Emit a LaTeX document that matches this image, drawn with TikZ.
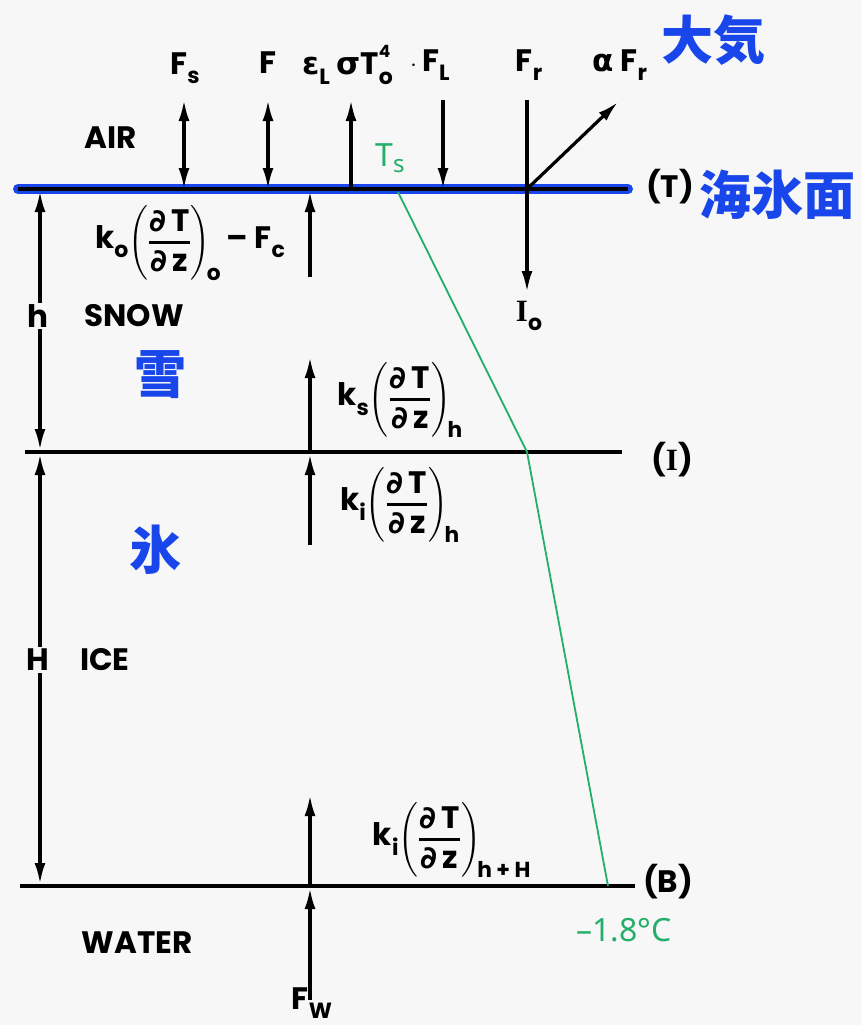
\documentclass[tikz,border=0pt]{standalone}
\usepackage{amsmath}
\usepackage{fontspec}
\setmainfont{Poppins}
\newfontfamily\cjk{Noto Sans CJK JP}
\newfontfamily\gk{DejaVu Sans}
\newfontfamily\hand{Noto Sans}
\newfontfamily\seriffont{Liberation Serif}
\usetikzlibrary{arrows.meta}
\definecolor{penblue}{RGB}{25,70,235}
\definecolor{pengreen}{RGB}{35,175,105}
\definecolor{paper}{RGB}{247,247,247}
\newcommand\sbs[1]{\raisebox{-0.3em}{\fontsize{22}{22}\selectfont #1}}
\newcommand\sps[1]{\raisebox{0.55em}{\fontsize{17}{17}\selectfont #1}}
\newcommand\dTdz{\genfrac{}{}{2.4pt}{0}{\text{{\gk\bfseries ∂}\,T}}{\text{{\gk\bfseries ∂}\,z}}}
\tikzset{
  lbl/.style={font=\bfseries\fontsize{31}{33}\selectfont, inner sep=0pt},
  flux/.style={line width=3.2pt, -{Latex[length=21pt,width=11pt]}},
  dflux/.style={line width=3.2pt, {Latex[length=21pt,width=11pt]}-{Latex[length=21pt,width=11pt]}},
  layer/.style={line width=4.5pt},
  jp/.style={font=\cjk\bfseries\fontsize{52}{52}\selectfont, text=penblue, inner sep=0pt},
  grn/.style={text=pengreen, font=\hand\fontsize{32}{32}\selectfont, inner sep=0pt},
  profile/.style={draw=pengreen, line width=1.8pt},
}
\begin{document}
\begin{tikzpicture}[x=1pt,y=-1pt]
\fill[paper] (0,0) rectangle (861,1025);
\useasboundingbox (0,0) rectangle (861,1025);

% layer lines
\coordinate (TL) at (18,189);  \coordinate (TR) at (628,189);
\coordinate (IL) at (25,452);  \coordinate (IR) at (622,452);
\coordinate (BL) at (20,886);  \coordinate (BR) at (635,886);
\draw[penblue, line width=10pt, line cap=round] (TL) -- (TR);
\draw[layer] (TL) -- (TR);
\draw[layer] (IL) -- (IR);
\draw[layer] (BL) -- (BR);

% temperature profile
\coordinate (P1) at (398,192);
\coordinate (P2) at (527,452);
\coordinate (P3) at (608,886);
\draw[profile] (P1) -- (P2) -- (P3);

% surface fluxes
\coordinate (fs1) at (184,100); \coordinate (fs2) at (184,189);
\coordinate (f1) at (268,100);  \coordinate (f2) at (268,189);
\coordinate (e1) at (351,100);  \coordinate (e2) at (351,189);
\coordinate (fl1) at (443,100); \coordinate (fl2) at (443,189);
\coordinate (fr1) at (527,100); \coordinate (fr0) at (527,189); \coordinate (fr2) at (527,292);
\coordinate (afr) at (618,102);
\draw[dflux] (fs1) -- (fs2);
\draw[dflux] (f1) -- (f2);
\draw[flux] (e2) -- (e1);
\draw[flux] (fl1) -- (fl2);
\draw[flux] (fr1) -- (fr2);
\draw[flux] (fr0) -- (afr);

% conductive fluxes
\coordinate (c1) at (310,277); \coordinate (c2) at (310,191);
\coordinate (s1) at (310,452); \coordinate (s2) at (310,357);
\coordinate (i1) at (310,545); \coordinate (i2) at (310,454);
\coordinate (b1) at (310,886); \coordinate (b2) at (310,795);
\coordinate (w1) at (310,1000); \coordinate (w2) at (310,888);
\draw[flux] (c1) -- (c2);
\draw[flux] (s1) -- (s2);
\draw[flux] (i1) -- (i2);
\draw[flux] (b1) -- (b2);
\draw[flux] (w1) -- (w2);

% thickness arrows
\coordinate (h1) at (40,191); \coordinate (h2) at (40,450);
\coordinate (H1) at (40,454); \coordinate (H2) at (40,884);
\draw[dflux] (h1) -- (h2);
\draw[dflux] (H1) -- (H2);

% labels
\node[lbl] (Fs) at (185,68) {F\sbs{s}};
\node[lbl] (F) at (268,63) {F};
\node[lbl, anchor=west] (eps) at (302,65) {{\gk ε}\sbs{L} {\gk σ}T\makebox[0pt][l]{\sps{4}}\sbs{o}};
\node[lbl, anchor=west] (FL) at (410,65) {$\cdot$\,F\sbs{L}};
\node[lbl] (Fr) at (529,65) {F\sbs{r}};
\node[lbl] (aFr) at (620,65) {{\gk α} F\sbs{r}};
\node[jp] (taiki) at (713,40) {大気};
\node[lbl] (air) at (111,138) {AIR};
\node[grn] (Ts) at (390,158) {T\raisebox{-0.2em}{\fontsize{24}{24}\selectfont s}};
\node[lbl] (Tlab) at (670,187) {(T)};
\node[jp] (kaihyo) at (777,195) {海氷面};
\node[lbl] (k0) at (190,243) {k\sbs{o}$\left(\dTdz\right)_{\!\text{o}}$\,\textendash\ F\sbs{c}};
\node[lbl] (I0) at (529,316) {{\seriffont I}\sbs{o}};
\node[lbl, fill=paper, inner sep=2pt] (h) at (38,316) {h};
\node[lbl] (snow) at (134,316) {SNOW};
\node[jp] (yuki) at (160,375) {雪};
\node[lbl] (ks) at (400,400) {k\sbs{s}$\left(\dTdz\right)_{\!\text{h}}$};
\node[lbl] (Ilab) at (672,460) {({\seriffont I})};
\node[lbl] (ki) at (400,505) {k\sbs{i}$\left(\dTdz\right)_{\!\text{h}}$};
\node[jp] (kori) at (155,550) {氷};
\node[lbl, fill=paper, inner sep=2pt] (H) at (38,660) {H};
\node[lbl] (ice) at (105,660) {ICE};
\node[lbl] (kiB) at (452,840) {k\sbs{i}$\left(\dTdz\right)_{\!\text{h + H}}$};
\node[lbl] (Blab) at (668,882) {(B)};
\node[grn] (Tb) at (624,930) {\textendash1.8°C};
\node[lbl] (water) at (137,943) {WATER};
\node[lbl] (Fw) at (312,1003) {F\sbs{W}};
\end{tikzpicture}
\end{document}
